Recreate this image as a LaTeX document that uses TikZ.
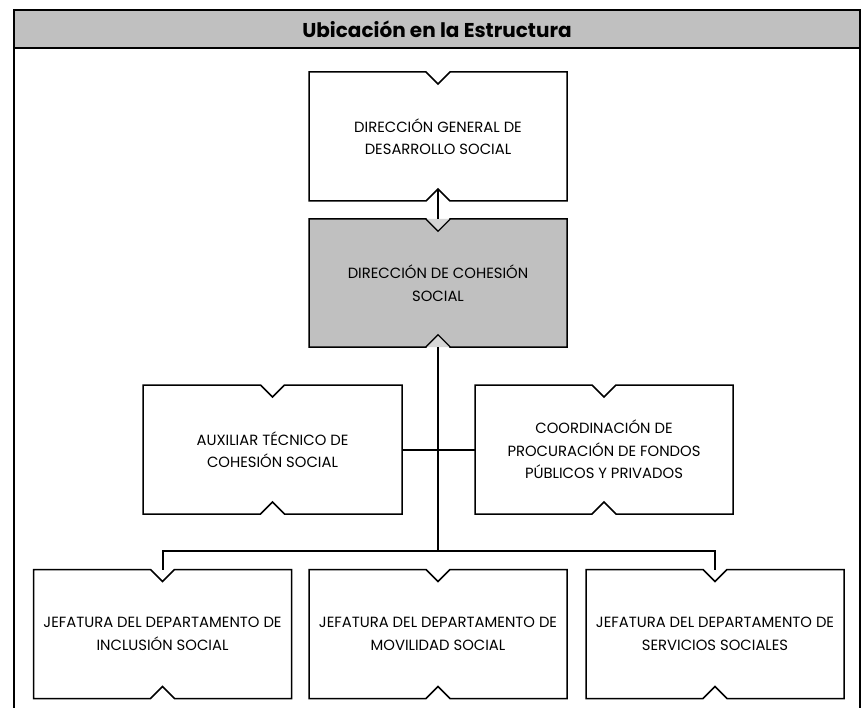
\documentclass[tikz,border=0pt]{standalone}
\usepackage{fontspec}
\setmainfont{Poppins}
\usetikzlibrary{calc}
\definecolor{boxgray}{RGB}{192,192,192}
\definecolor{notchgray}{RGB}{215,215,215}
\tikzset{
  orgbox/.style={minimum width=258pt, minimum height=129pt, inner sep=0pt, outer sep=0pt, align=center, font=\fontsize{14.8}{22.5}\selectfont},
  boxline/.style={line width=1.5pt, draw=black, line join=miter},
  frameline/.style={line width=2.8pt, draw=black},
  conn/.style={line width=2pt, draw=black},
  spine/.style={line width=2.6pt, draw=black},
}
\newcommand{\notchpath}[1]{(#1.north west) -- ([xshift=-12pt]#1.north) -- ([yshift=-12pt]#1.north) -- ([xshift=12pt]#1.north) -- (#1.north east) -- (#1.south east) -- ([xshift=12pt]#1.south) -- ([yshift=12pt]#1.south) -- ([xshift=-12pt]#1.south) -- (#1.south west) -- cycle}
\begin{document}
\begin{tikzpicture}[x=1pt,y=-1pt]
\useasboundingbox (0,0) rectangle (866,708);
% frame
\draw[frameline, fill=boxgray] (14,10) rectangle (860,48);
\draw[frameline] (14,708) -- (14,10) -- (860,10) -- (860,708);
\node[font=\bfseries\fontsize{20}{22}\selectfont] (title) at (437,29.5) {Ubicación en la Estructura};
% nodes (text placed after outlines)
\path (438,136.5) node[orgbox] (dg) {}
      (438,283) node[orgbox, minimum height=128pt] (dc) {}
      (272.5,449.5) node[orgbox, minimum width=259pt] (aux) {}
      (604,449.5) node[orgbox] (coord) {}
      (162.5,634) node[orgbox] (inc) {}
      (438,634) node[orgbox] (mov) {}
      (715,634) node[orgbox] (ser) {};
% outlines
\foreach \n in {dg,aux,coord,inc,mov,ser}{
  \draw[boxline, fill=white] \notchpath{\n};
}
\draw[boxline, fill=boxgray] \notchpath{dc};
\fill[notchgray] ([xshift=-11pt]dc.north) -- ([yshift=-11pt]dc.north) -- ([xshift=11pt]dc.north) -- cycle;
\fill[notchgray] ([xshift=-11pt]dc.south) -- ([yshift=11pt]dc.south) -- ([xshift=11pt]dc.south) -- cycle;
% texts
\node[orgbox] (dgtext) at (dg) {DIRECCIÓN GENERAL DE\\DESARROLLO SOCIAL};
\node[orgbox, minimum height=128pt] (dctext) at (dc) {DIRECCIÓN DE COHESIÓN\\SOCIAL};
\node[orgbox, minimum width=259pt] (auxtext) at (aux) {AUXILIAR TÉCNICO DE\\COHESIÓN SOCIAL};
\node[orgbox] (coordtext) at (coord) {COORDINACIÓN DE\\PROCURACIÓN DE FONDOS\\PÚBLICOS Y PRIVADOS};
\node[orgbox] (inctext) at (inc) {JEFATURA DEL DEPARTAMENTO DE\\INCLUSIÓN SOCIAL};
\node[orgbox] (movtext) at (mov) {JEFATURA DEL DEPARTAMENTO DE\\MOVILIDAD SOCIAL};
\node[orgbox] (sertext) at (ser) {JEFATURA DEL DEPARTAMENTO DE\\SERVICIOS SOCIALES};
% connectors
\draw[conn] ([yshift=12pt]dg.south) -- (dc.north);
\draw[spine] (dc.south) -- (dc.south |- 0,551) coordinate (bus);
\draw[conn] (aux.east) -- (coord.east -| coord.west);
\draw[conn] (inc.north) -- (inc.north |- bus) -- (ser.north |- bus) -- (ser.north);
\end{tikzpicture}
\end{document}
